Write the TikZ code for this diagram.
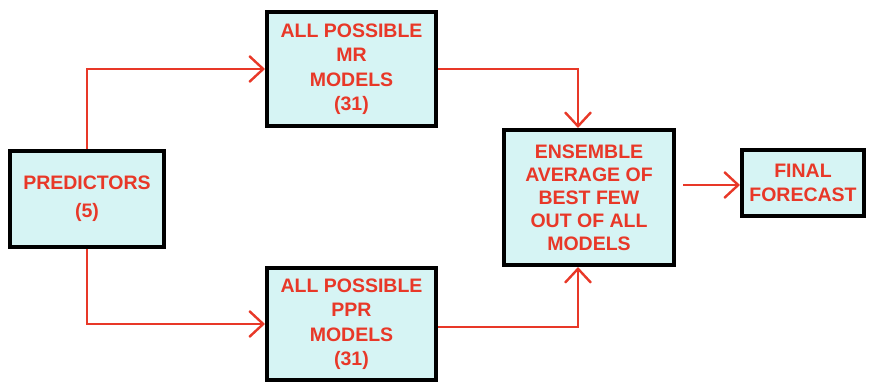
\documentclass[tikz,border=0pt]{standalone}
\usepackage{fontspec}
\setmainfont{Liberation Sans}
\usetikzlibrary{arrows.meta}
\definecolor{boxfill}{RGB}{214,244,244}
\definecolor{textred}{RGB}{232,56,40}
\begin{document}
\begin{tikzpicture}[x=1pt, y=-1pt,
  box/.style = {draw=black, line width=4pt, fill=boxfill, text=textred,
    font=\fontsize{19.5}{24.5}\selectfont\bfseries, align=center, inner sep=0pt},
  link/.style = {draw=textred, line width=2.4pt,
    -{Straight Barb[length=14pt, width=26pt, line width=2.4pt]}}]
\useasboundingbox (0,0) rectangle (871,385);

% boxes
\node[box, minimum width=154, minimum height=95, font=\fontsize{19.5}{28}\selectfont\bfseries] (pred) at (87,199) {PREDICTORS\\(5)};
\node[box, minimum width=169, minimum height=114] (mr) at (351.5,69) {ALL POSSIBLE\\MR\\MODELS\\(31)};
\node[box, minimum width=169, minimum height=112] (ppr) at (351.5,324) {ALL POSSIBLE\\PPR\\MODELS\\(31)};
\node[box, minimum width=170, minimum height=135, font=\fontsize{19.5}{23}\selectfont\bfseries] (ens) at (589,197.5)
  {ENSEMBLE\\AVERAGE OF\\BEST FEW\\OUT OF ALL\\MODELS};
\node[box, minimum width=122, minimum height=66] (final) at (803,183) {FINAL\\FORECAST};

% connectors
\draw[link] (pred.north) |- (mr.west);
\draw[link] (pred.south) |- (ppr.west);
\draw[link] (mr.east) -| ([xshift=-11pt]ens.north);
\draw[link] ([yshift=-3pt]ppr.east) -| ([xshift=-11pt]ens.south);
\coordinate (e1) at ([yshift=12.5pt]ens.east);
\draw[link, shorten <=7pt] (e1) -- (e1 -| final.west);

\end{tikzpicture}
\end{document}
